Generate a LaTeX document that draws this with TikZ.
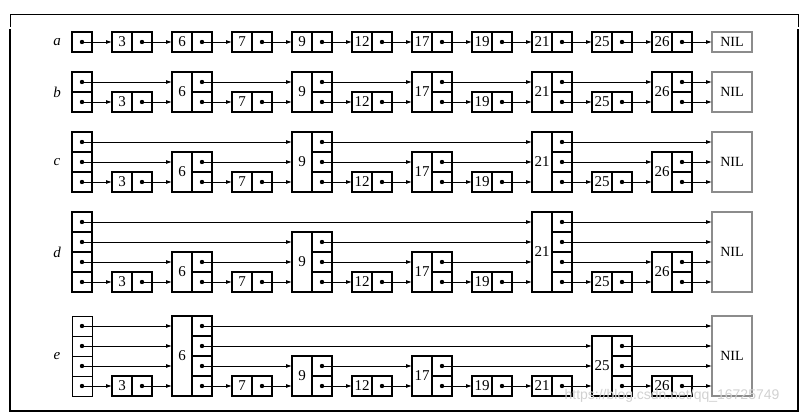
\documentclass[tikz,border=0pt]{standalone}
\usepackage{fontspec}
\setmainfont{Liberation Serif}
\setsansfont{Liberation Sans}
\usepackage{tikz}
\usetikzlibrary{arrows.meta}
\tikzset{
  cell/.style={draw,line width=1.2pt,minimum width=20pt,minimum height=20pt,inner sep=0pt,outer sep=0pt},
  keybox/.style={cell,font=\fontsize{15}{15}\selectfont},
  nilbox/.style={draw=black!45,line width=1.2pt,minimum width=40pt,inner sep=0pt,outer sep=0pt,font=\fontsize{14}{14}\selectfont},
  thinhead/.style={line width=0.6pt},
  ptrdot/.style={circle,fill=black,draw=none,inner sep=0pt,minimum size=4.4pt},
  ptr/.style={-{Latex[length=6pt,width=4pt]},line width=0.8pt},
  rowlabel/.style={font=\fontsize{15}{15}\selectfont\itshape},
  wmark/.style={font=\sffamily\fontsize{14}{14}\selectfont,text=black!18}
}
% one list element: key box + pointer cells
\newcommand{\slnode}[5]{%
  \node[keybox,minimum height={#5*20pt},anchor=south west] (#1#2k) at (#3,{#4+10}) {#2};
  \foreach \l in {1,...,#5}{
    \node[cell,anchor=south west] (#1#2p\l) at ({#3+20},{#4+10-(\l-1)*20}) {};
    \node[ptrdot] at (#1#2p\l.center) {};
  }%
}
% header: pointer cells only
\newcommand{\slhead}[4]{%
  \foreach \l in {1,...,#3}{
    \node[cell,#4,anchor=south west] (#1hp\l) at (72,{#2+10-(\l-1)*20}) {};
    \node[ptrdot] at (#1hp\l.center) {};
  }%
}
\newcommand{\slnil}[3]{%
  \node[nilbox,minimum height={#3*20pt},anchor=south west] (#1NILk) at (712,{#2+10}) {NIL};%
}
\newcommand{\slrow}[5]{%
  \node[rowlabel] (#1lab) at (57,{#2-(#3-1)*10}) {#1};
  \slhead{#1}{#2}{#3}{#5}
  \foreach \v/\h [count=\i] in {#4} {\slnode{#1}{\v}{52+60*\i}{#2}{\h}}
  \slnil{#1}{#2}{#3}%
}
% pointers on one level
\newcommand{\slchain}[3]{%
  \foreach \n [remember=\n as \p (initially h)] in {#3}
    \draw[ptr] (#1\p p#2.center) -- (#1\n k.west |- #1\p p#2.center);%
}

\begin{document}
\begin{tikzpicture}[x=1pt,y=-1pt]
\useasboundingbox (0,0) rectangle (801,414);
% frame
\draw[line width=0.8pt] (10,27) -- (10,14) -- (798,14) -- (798,27);
\draw[line width=1.8pt] (10,29) -- (10,411) -- (798,411) -- (798,29);

\slrow{a}{42}{1}{3/1,6/1,7/1,9/1,12/1,17/1,19/1,21/1,25/1,26/1}{}
\slchain{a}{1}{3,6,7,9,12,17,19,21,25,26,NIL}

\slrow{b}{102}{2}{3/1,6/2,7/1,9/2,12/1,17/2,19/1,21/2,25/1,26/2}{}
\slchain{b}{1}{3,6,7,9,12,17,19,21,25,26,NIL}
\slchain{b}{2}{6,9,17,21,26,NIL}

\slrow{c}{182}{3}{3/1,6/2,7/1,9/3,12/1,17/2,19/1,21/3,25/1,26/2}{}
\slchain{c}{1}{3,6,7,9,12,17,19,21,25,26,NIL}
\slchain{c}{2}{6,9,17,21,26,NIL}
\slchain{c}{3}{9,21,NIL}

\slrow{d}{282}{4}{3/1,6/2,7/1,9/3,12/1,17/2,19/1,21/4,25/1,26/2}{}
\slchain{d}{1}{3,6,7,9,12,17,19,21,25,26,NIL}
\slchain{d}{2}{6,9,17,21,26,NIL}
\slchain{d}{3}{9,21,NIL}
\slchain{d}{4}{21,NIL}

\slrow{e}{386}{4}{3/1,6/4,7/1,9/2,12/1,17/2,19/1,21/1,25/3,26/1}{thinhead}
\slchain{e}{1}{3,6,7,9,12,17,19,21,25,26,NIL}
\slchain{e}{2}{6,9,17,25,NIL}
\slchain{e}{3}{6,25,NIL}
\slchain{e}{4}{6,NIL}

\node[wmark] (wm) at (672,396) {https://blog.csdn.net/qq\_16725749};
\end{tikzpicture}
\end{document}
